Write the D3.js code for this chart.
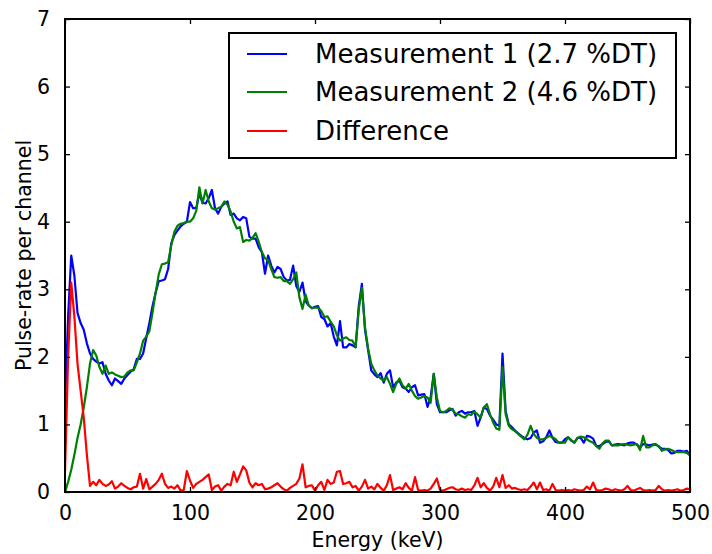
<!DOCTYPE html>
<html>
<head>
<meta charset="utf-8">
<script src="https://cdn.jsdelivr.net/npm/d3@7"></script>
<style>
  body { margin: 0; background: #fff; }
  svg { display: block; font-family: "DejaVu Sans", sans-serif; }
</style>
</head>
<body>
<svg id="chart" width="712" height="554"></svg>
<script>
// channel energies (keV), one every 2.5 keV
const energies = d3.range(0, 500.001, 2.5);

const measurement1 = [
  1.3, 2.6, 3.5, 3.2, 2.65, 2.5, 2.4, 2.2, 2.05, 1.97, 1.93, 1.9, 1.92, 1.75, 1.65, 1.58, 1.68, 1.64, 1.6, 1.68,
  1.73, 1.78, 1.82, 1.97, 1.97, 2.05, 2.28, 2.5, 2.75, 2.95, 3.12, 3.13, 3.15, 3.3, 3.68, 3.8, 3.87, 3.93, 3.97, 4.0,
  4.29, 4.2, 4.2, 4.42, 4.28, 4.27, 4.35, 4.47, 4.2, 4.12, 4.22, 4.27, 4.3, 4.1, 4.12, 4.05, 4.02, 4.07, 4.05, 3.78,
  3.75, 3.75, 3.62, 3.55, 3.23, 3.5, 3.35, 3.25, 3.33, 3.3, 3.18, 3.13, 3.14, 3.35, 3.05, 2.96, 3.1, 2.82, 2.76, 2.72,
  2.74, 2.75, 2.59, 2.56, 2.45, 2.5, 2.3, 2.17, 2.53, 2.14, 2.14, 2.19, 2.17, 2.14, 2.75, 3.08, 2.4, 2.1, 1.8, 1.74,
  1.7, 1.76, 1.62, 1.75, 1.8, 1.55, 1.62, 1.65, 1.55, 1.53, 1.48, 1.55, 1.58, 1.43, 1.44, 1.45, 1.26, 1.4, 1.75, 1.3,
  1.18, 1.18, 1.18, 1.21, 1.23, 1.13, 1.18, 1.2, 1.16, 1.18, 1.18, 1.2, 0.98, 1.1, 1.25, 1.23, 1.13, 1.07, 1.0, 0.98,
  2.05, 1.2, 1.0, 0.96, 0.91, 0.87, 0.83, 0.8, 0.78, 0.8, 0.88, 0.91, 0.73, 0.75, 0.81, 0.91, 0.8, 0.74, 0.73, 0.73,
  0.78, 0.81, 0.76, 0.73, 0.8, 0.8, 0.73, 0.83, 0.82, 0.79, 0.68, 0.68, 0.71, 0.74, 0.75, 0.69, 0.7, 0.71, 0.7, 0.69,
  0.72, 0.73, 0.73, 0.7, 0.66, 0.71, 0.7, 0.69, 0.7, 0.71, 0.67, 0.64, 0.64, 0.62, 0.57, 0.58, 0.61, 0.61, 0.6, 0.61,
  0.54
];

const measurement2 = [
  0.0, 0.15, 0.33, 0.55, 0.8, 1.0, 1.25, 1.55, 1.9, 2.1, 2.02, 1.85, 1.75, 1.87, 1.75, 1.77, 1.74, 1.72, 1.7, 1.71,
  1.77, 1.8, 1.8, 1.92, 2.05, 2.24, 2.3, 2.38, 2.65, 2.95, 3.22, 3.37, 3.38, 3.4, 3.65, 3.85, 3.94, 3.97, 3.98, 4.0,
  4.0, 4.05, 4.16, 4.51, 4.27, 4.47, 4.3, 4.2, 4.18, 4.2, 4.22, 4.3, 4.25, 4.15, 4.0, 3.9, 3.92, 3.7, 3.73, 3.72,
  3.76, 3.83, 3.7, 3.55, 3.46, 3.43, 3.3, 3.18, 3.17, 3.18, 3.12, 3.12, 3.08, 3.15, 3.25, 2.88, 2.71, 2.92, 2.76, 2.72,
  2.73, 2.73, 2.68, 2.59, 2.6, 2.52, 2.45, 2.32, 2.24, 2.27, 2.29, 2.25, 2.24, 2.15, 2.7, 3.02, 2.44, 2.12, 1.9, 1.8,
  1.72, 1.68, 1.65, 1.7, 1.6, 1.48, 1.6, 1.68, 1.58, 1.53, 1.6, 1.5, 1.42, 1.38, 1.4, 1.42, 1.4, 1.32, 1.75, 1.4,
  1.2, 1.18, 1.2, 1.24, 1.22, 1.16, 1.15, 1.12, 1.1, 1.15, 1.14, 1.19, 1.15, 1.1, 1.25, 1.3, 1.15, 1.03, 0.94, 0.92,
  1.85, 1.15, 0.98, 0.93, 0.9, 0.86, 0.82, 0.78, 0.85, 0.98, 0.86, 0.8, 0.78, 0.78, 0.8, 0.83, 0.81, 0.78, 0.73, 0.73,
  0.73, 0.81, 0.77, 0.73, 0.8, 0.82, 0.81, 0.78, 0.75, 0.73, 0.68, 0.64, 0.72, 0.76, 0.76, 0.69, 0.69, 0.69, 0.7, 0.71,
  0.7, 0.69, 0.7, 0.71, 0.62, 0.83, 0.66, 0.66, 0.69, 0.7, 0.68, 0.61, 0.63, 0.64, 0.62, 0.6, 0.59, 0.59, 0.59, 0.58,
  0.54
];

const difference = [
  0.3, 2.0, 3.1, 2.6, 1.9, 1.5, 1.1, 0.55, 0.09, 0.15, 0.1, 0.18, 0.12, 0.09, 0.11, 0.16, 0.05, 0.08, 0.13, 0.09,
  0.06, 0.04, 0.07, 0.08, 0.27, 0.05, 0.19, 0.04, 0.08, 0.12, 0.18, 0.27, 0.12, 0.06, 0.08, 0.05, 0.1, 0.02, 0.03, 0.31,
  0.17, 0.06, 0.12, 0.15, 0.18, 0.22, 0.26, 0.03, 0.08, 0.1, 0.02, 0.08, 0.12, 0.1, 0.3, 0.15, 0.26, 0.38, 0.32, 0.14,
  0.07, 0.13, 0.1, 0.12, 0.04, 0.05, 0.07, 0.1, 0.13, 0.08, 0.04, 0.02, 0.06, 0.09, 0.12, 0.2, 0.41, 0.07, 0.09, 0.1,
  0.02, 0.1, 0.15, 0.03, 0.18, 0.12, 0.14, 0.3, 0.31, 0.12, 0.13, 0.15, 0.07, 0.09, 0.02, 0.08, 0.18, 0.05, 0.08, 0.04,
  0.12, 0.06, 0.02, 0.1, 0.25, 0.03, 0.05, 0.07, 0.04, 0.13, 0.06, 0.02, 0.22, 0.03, 0.02, 0.03, 0.02, 0.05, 0.12, 0.2,
  0.03, 0.02, 0.04, 0.06, 0.07, 0.04, 0.03, 0.05, 0.03, 0.04, 0.03, 0.1, 0.21, 0.07, 0.13, 0.06, 0.02, 0.08, 0.21, 0.07,
  0.25, 0.06, 0.1, 0.05, 0.06, 0.04, 0.03, 0.04, 0.03, 0.08, 0.14, 0.04, 0.14, 0.03, 0.04, 0.02, 0.12, 0.03, 0.02, 0.03,
  0.02, 0.03, 0.02, 0.04, 0.03, 0.02, 0.03, 0.08, 0.04, 0.14, 0.03, 0.02, 0.03, 0.05, 0.04, 0.02, 0.04, 0.03, 0.02, 0.04,
  0.09, 0.03, 0.02, 0.04, 0.06, 0.03, 0.02, 0.03, 0.02, 0.03, 0.09, 0.04, 0.02, 0.03, 0.02, 0.03, 0.04, 0.02, 0.03, 0.05,
  0.04
];

const xTicks = [0, 100, 200, 300, 400, 500];
const yTicks = [0, 1, 2, 3, 4, 5, 6, 7];

const seriesNames = ["Measurement 1 (2.7 %DT)", "Measurement 2 (4.6 %DT)", "Difference"];
const seriesColors = ["#0000ff", "#008000", "#ff0000"];

const svg = d3.select("#chart");
const margin = { top: 19, right: 22, bottom: 62, left: 65 };
const width = 712, height = 554;

const x = d3.scaleLinear().domain([0, 500]).range([margin.left, width - margin.right]);
const y = d3.scaleLinear().domain([0, 7]).range([height - margin.bottom, margin.top]);

const series = [measurement1, measurement2, difference].map((vals, i) => ({
  name: seriesNames[i],
  color: seriesColors[i],
  points: vals.map((v, j) => ({ e: energies[j], v }))
}));

const line = d3.line().x(d => x(d.e)).y(d => y(d.v));

svg.append("defs").append("clipPath").attr("id", "clip")
  .append("rect")
  .attr("x", margin.left).attr("y", margin.top)
  .attr("width", width - margin.left - margin.right)
  .attr("height", height - margin.top - margin.bottom);

svg.append("g").attr("clip-path", "url(#clip)")
  .selectAll("path")
  .data(series)
  .join("path")
  .attr("d", d => line(d.points))
  .attr("fill", "none")
  .attr("stroke", d => d.color)
  .attr("stroke-width", 2.2)
  .attr("stroke-linejoin", "round");

// ticks pointing inward on all four sides
const tickLen = 5;
const axisB = svg.append("g")
  .attr("transform", `translate(0,${y(0)})`)
  .call(d3.axisBottom(x).tickValues(xTicks).tickSize(-tickLen).tickPadding(13));
const axisT = svg.append("g")
  .attr("transform", `translate(0,${y(7)})`)
  .call(d3.axisTop(x).tickValues(xTicks).tickSize(-tickLen).tickFormat(""));
const axisL = svg.append("g")
  .attr("transform", `translate(${x(0)},0)`)
  .call(d3.axisLeft(y).tickValues(yTicks).tickSize(-tickLen).tickPadding(15).tickFormat(d3.format("d")));
const axisR = svg.append("g")
  .attr("transform", `translate(${x(500)},0)`)
  .call(d3.axisRight(y).tickValues(yTicks).tickSize(-tickLen).tickFormat(""));

[axisB, axisT, axisL, axisR].forEach(g => {
  g.select(".domain").remove();
  g.selectAll(".tick line").attr("stroke", "#000").attr("stroke-width", 1.3);
  g.selectAll("text")
    .style("font-family", "'DejaVu Sans', sans-serif")
    .style("font-size", "20.5px")
    .attr("fill", "#000");
});

// frame
svg.append("rect")
  .attr("x", x(0)).attr("y", y(7))
  .attr("width", x(500) - x(0)).attr("height", y(0) - y(7))
  .attr("fill", "none").attr("stroke", "#000").attr("stroke-width", 2);

svg.append("text")
  .attr("x", (x(0) + x(500)) / 2)
  .attr("y", 547)
  .attr("text-anchor", "middle")
  .style("font-size", "20.5px")
  .text("Energy (keV)");

svg.append("text")
  .attr("transform", `translate(31,${(y(0) + y(7)) / 2}) rotate(-90)`)
  .attr("text-anchor", "middle")
  .style("font-size", "20.5px")
  .text("Pulse-rate per channel");

// legend
const legend = svg.append("g");
legend.append("rect")
  .attr("x", 229).attr("y", 33)
  .attr("width", 447).attr("height", 125)
  .attr("fill", "#fff").attr("stroke", "#000").attr("stroke-width", 2);

const rows = legend.selectAll("g.row")
  .data(series)
  .join("g")
  .attr("class", "row")
  .attr("transform", (d, i) => `translate(0,${[54, 92, 131][i]})`);

rows.append("line")
  .attr("x1", 247).attr("x2", 287)
  .attr("stroke", d => d.color).attr("stroke-width", 2.2);

rows.append("text")
  .attr("x", 315)
  .attr("dy", "0.36em")
  .style("font-size", "26px")
  .text(d => d.name);
</script>
</body>
</html>
